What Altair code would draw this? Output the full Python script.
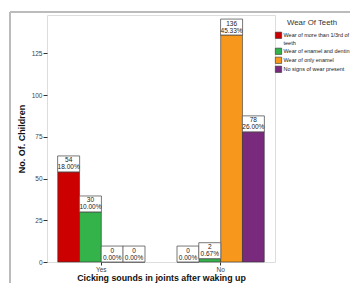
import altair as alt
import pandas as pd

groups = ["Yes", "Yes", "Yes", "Yes", "No", "No", "No", "No"]
wear = ["Wear of more than 1/3rd of teeth", "Wear of enamel and dentin",
        "Wear of only enamel", "No signs of wear present"] * 2
counts = [54, 30, 0, 0, 0, 2, 136, 78]
percents = ["18.00%", "10.00%", "0.00%", "0.00%", "0.00%", "0.67%", "45.33%", "26.00%"]

wear_order = ["Wear of more than 1/3rd of teeth", "Wear of enamel and dentin",
              "Wear of only enamel", "No signs of wear present"]
wear_colors = ["#cc0000", "#33b34a", "#f7981d", "#7a2a7c"]
group_order = ["Yes", "No"]

df = pd.DataFrame({"grp": groups, "wear": wear, "count": counts, "pct": percents})
df["cnt"] = df["count"].astype(str)

xenc = alt.X("grp:N", sort=group_order,
             scale=alt.Scale(paddingInner=0.27, paddingOuter=0.09),
             axis=alt.Axis(title="Cicking sounds in joints after waking up", labelAngle=0,
                           domain=False, tickSize=3, tickColor="#333", labelFontSize=6.5,
                           labelColor="#444", labelPadding=1, titleFontSize=8.8,
                           titleFontWeight="bold", titlePadding=1, titleColor="#111"))
xoff = alt.XOffset("wear:N", sort=wear_order, scale=alt.Scale(paddingInner=0, paddingOuter=0))
yenc = alt.Y("count:Q", scale=alt.Scale(domain=[0, 148], nice=False),
             axis=alt.Axis(title="No. Of. Children", values=[0, 25, 50, 75, 100, 125],
                           domain=False, grid=False, tickSize=4, tickColor="#333",
                           labelFontSize=6.5, labelColor="#444", labelPadding=1,
                           titleFontSize=9, titleFontWeight="bold", titlePadding=5,
                           titleColor="#111"))

bars = alt.Chart(df).mark_bar(stroke="#333", strokeWidth=0.6).encode(
    x=xenc, xOffset=xoff, y=yenc,
    color=alt.Color("wear:N", sort=wear_order,
                    scale=alt.Scale(domain=wear_order, range=wear_colors),
                    legend=alt.Legend(
                        title="Wear Of Teeth", orient="none", legendX=228, legendY=4,
                        titleFontSize=7.8, titleFontWeight="normal", titleColor="#333",
                        titleAnchor="middle", titlePadding=5,
                        labelFontSize=5.5, labelColor="#222", labelLimit=200, labelOffset=1.5,
                        symbolType="square", symbolSize=40, symbolStrokeColor="#333",
                        symbolStrokeWidth=0.6, rowPadding=0, padding=0,
                        labelExpr="datum.label == 'Wear of more than 1/3rd of teeth' ? ['Wear of more than 1/3rd of', 'teeth'] : datum.label")),
)

boxes = alt.Chart(df).mark_point(
    shape="M-1,-1.45H1V0H-1Z", size=484, filled=True, fill="white",
    stroke="#555", strokeWidth=0.8, opacity=1
).encode(x=xenc, xOffset=xoff, y=yenc)

count_text = alt.Chart(df).mark_text(
    fontSize=6.5, baseline="bottom", dy=-8.5, color="#222"
).encode(x=xenc, xOffset=xoff, y=yenc, text="cnt:N")

pct_text = alt.Chart(df).mark_text(
    fontSize=6.5, baseline="bottom", dy=-1.5, color="#222"
).encode(x=xenc, xOffset=xoff, y=yenc, text="pct:N")

frame_top = alt.Chart(df).mark_rule(color="#bbb", strokeWidth=1).encode(
    x=alt.value(-37), x2=alt.value(330), y=alt.value(-3))
frame_left = alt.Chart(df).mark_rule(color="#bbb", strokeWidth=1).encode(
    x=alt.value(-37), y=alt.value(-3), y2=alt.value(300))

chart = alt.layer(frame_top, frame_left, bars, boxes, count_text, pct_text).properties(
    width=228, height=247,
    autosize=alt.AutoSizeParams(type="none"),
    padding={"left": 39, "top": 7, "right": 75, "bottom": 21},
).configure_view(fill="#f0f0f0", stroke="#777", strokeWidth=1).configure(
    font="Liberation Sans"
)

chart.save("out.html", embed_options={"renderer": "svg", "actions": False})
